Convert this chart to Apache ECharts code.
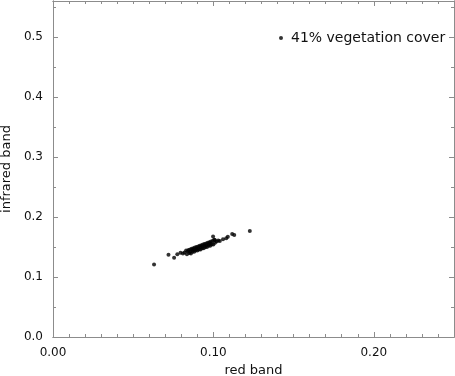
<!DOCTYPE html>
<html>
<head>
<meta charset="utf-8">
<script src="https://cdn.jsdelivr.net/npm/echarts@6/dist/echarts.min.js"></script>
<style>html,body{margin:0;padding:0;background:#fff}#c{width:455px;height:376px}</style>
</head>
<body>
<div id="c"></div>
<script>
var seriesName = '41% vegetation cover';
var redBand = [0.063,0.072,0.0755,0.0775,0.0795,0.081,
0.082,0.083,0.0835,0.084,0.0845,0.085,0.0855,0.086,0.0865,0.087,0.0875,0.088,0.0885,0.089,0.0895,0.090,0.0905,0.091,0.0915,0.092,0.0925,0.093,0.0935,0.094,0.0945,0.095,0.0955,0.096,0.0965,0.097,0.0975,0.098,0.0985,0.099,0.0995,0.100,0.1005,0.101,0.1009,0.0998,0.102,0.103,0.104,0.106,0.108,0.109,0.1117,0.113,0.1227,
0.0855,0.088,0.0905,0.093,0.0955,0.098,0.087,0.0895,0.092,0.0945,0.097];
var infraredBand = [0.121,0.137,0.132,0.138,0.1405,0.139,
0.141,0.144,0.138,0.143,0.145,0.140,0.146,0.139,0.147,0.142,0.148,0.142,0.149,0.144,0.150,0.144,0.151,0.146,0.152,0.146,0.153,0.148,0.154,0.148,0.155,0.150,0.156,0.150,0.157,0.152,0.158,0.152,0.159,0.154,0.160,0.154,0.162,0.157,0.1617,0.1675,0.159,0.161,0.160,0.163,0.1645,0.167,0.1717,0.170,0.1767,
0.142,0.146,0.148,0.151,0.153,0.156,0.145,0.147,0.150,0.152,0.154];
var xTicks = [0, 0.25, 0.1];
var yTicks = [0, 0.56, 0.1];

var pts = redBand.map(function(x,i){return [x, infraredBand[i]];});
var gray = '#8c8c8c';
var font = 'DejaVu Sans, sans-serif';
function xa(pos, interval, len, labels, extra){
  var o = {type:'value', position:pos, min:xTicks[0], max:xTicks[1], interval:interval,
    axisLine:{show:true, onZero:false, lineStyle:{color:gray, width:1}},
    axisTick:{show:true, inside:true, length:len, lineStyle:{color:gray}},
    splitLine:{show:false},
    axisLabel:{show:labels, showMaxLabel:false, color:'#111', fontSize:12, fontFamily:font, margin:10,
      formatter:function(v){return v.toFixed(2);}}};
  for (var k in extra) o[k]=extra[k];
  return o;
}
function ya(pos, interval, len, labels, extra){
  var o = {type:'value', position:pos, min:yTicks[0], max:yTicks[1], interval:interval,
    axisLine:{show:true, onZero:false, lineStyle:{color:gray, width:1}},
    axisTick:{show:true, inside:true, length:len, lineStyle:{color:gray}},
    splitLine:{show:false},
    axisLabel:{show:labels, showMaxLabel:false, color:'#111', fontSize:12, fontFamily:font, margin:10,
      formatter:function(v){return v.toFixed(1);}}};
  for (var k in extra) o[k]=extra[k];
  return o;
}
var chart = echarts.init(document.getElementById('c'));
chart.setOption({
  animation:false,
  grid:{left:53, right:1, top:1, bottom:39, containLabel:false, outerBoundsMode:'none'},
  legend:{show:true, data:[seriesName], left:274, top:26, icon:'circle', itemWidth:4, itemHeight:4,
    textStyle:{fontSize:14, fontFamily:font, color:'#111', padding:[0,0,0,3]}},
  xAxis:[
    xa('bottom', xTicks[2], 5, true, {name:'red band', nameLocation:'middle', nameGap:27, nameTextStyle:{fontSize:13, fontFamily:font, color:'#111'}}),
    xa('bottom', 0.01, 3, false, {}),
    xa('top', xTicks[2], 5, false, {}),
    xa('top', 0.01, 3, false, {})
  ],
  yAxis:[
    ya('left', yTicks[2], 5, true, {name:'infrared band', nameLocation:'middle', nameGap:39, nameTextStyle:{fontSize:13, fontFamily:font, color:'#111'}}),
    ya('left', 0.05, 3, false, {}),
    ya('right', yTicks[2], 5, false, {}),
    ya('right', 0.05, 3, false, {})
  ],
  series:[{name:seriesName, type:'scatter', xAxisIndex:0, yAxisIndex:0, data:pts, symbol:'circle', symbolSize:4,
    itemStyle:{color:'#000'}}]
});
</script>
</body>
</html>
